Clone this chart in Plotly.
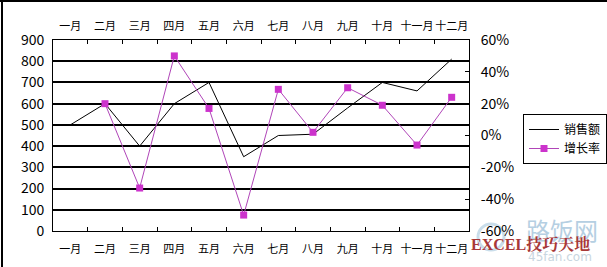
import plotly.graph_objects as go

months = ["一月", "二月", "三月", "四月", "五月", "六月", "七月", "八月", "九月", "十月", "十一月", "十二月"]
sales = [500, 600, 400, 600, 700, 350, 450, 456, 580, 700, 660, 810]
growth = [None, 0.20, -0.33, 0.50, 0.17, -0.50, 0.29, 0.02, 0.30, 0.19, -0.06, 0.24]

left_ticks = list(range(0, 901, 100))
right_vals = [-0.6, -0.4, -0.2, 0, 0.2, 0.4, 0.6]
right_text = ["-60%", "-40%", "-20%", "0%", "20%", "40%", "60%"]

W, H = 607, 267
L, R, T, B = 53, 469, 40, 231


def px(x):
    return (x - L) / (R - L)


def py(y):
    return (B - y) / (B - T)


font = "Noto Sans CJK SC, SimSun, sans-serif"

fig = go.Figure()
fig.add_trace(go.Scatter(
    x=months, y=sales, name="销售额", mode="lines",
    line=dict(color="black", width=1), xaxis="x", yaxis="y"))
fig.add_trace(go.Scatter(
    x=months, y=growth, name="增长率", mode="lines+markers",
    line=dict(color="#B045B8", width=1),
    marker=dict(symbol="square", size=7, color="#CC33CC"),
    xaxis="x", yaxis="y2"))
# invisible trace to drive the top category axis
fig.add_trace(go.Scatter(
    x=months, y=[None] * len(months), showlegend=False, hoverinfo="skip",
    xaxis="x2", yaxis="y"))

fig.update_layout(
    width=W, height=H,
    margin=dict(l=L, r=W - R, t=T, b=H - B, autoexpand=False),
    paper_bgcolor="white", plot_bgcolor="white",
    font=dict(family=font, color="black", size=12),
    showlegend=True,
    legend=dict(
        x=px(523), y=py(114), xanchor="left", yanchor="top",
        bordercolor="black", borderwidth=1, bgcolor="white",
        font=dict(size=12, family=font), tracegroupgap=0,
        itemwidth=30,
    ),
    xaxis=dict(
        type="category", categoryorder="array", categoryarray=months,
        showline=True, linecolor="black", linewidth=1,
        ticks="inside", ticklen=4, tickcolor="black", tickson="boundaries",
        showgrid=False, tickfont=dict(size=11), tickangle=0, automargin=False,
        range=[-0.5, 11.5], ticklabelstandoff=8,
    ),
    xaxis2=dict(
        type="category", categoryorder="array", categoryarray=months,
        overlaying="x", side="top", anchor="y",
        showline=True, linecolor="black", linewidth=1,
        ticks="inside", ticklen=4, tickcolor="black", tickson="boundaries",
        showgrid=False, tickfont=dict(size=11), tickangle=0, automargin=False,
        range=[-0.5, 11.5], ticklabelstandoff=5,
    ),
    yaxis=dict(
        range=[0, 900], tickvals=left_ticks,
        showline=True, linecolor="black", linewidth=1,
        showgrid=True, gridcolor="black", gridwidth=1.5,
        zeroline=False, ticks="", tickfont=dict(size=14),
        automargin=False, ticklabelstandoff=5,
    ),
    yaxis2=dict(
        range=[-0.6, 0.6], tickvals=right_vals, ticktext=right_text,
        overlaying="y", side="right",
        showline=True, linecolor="black", linewidth=1,
        showgrid=False, zeroline=False,
        ticks="inside", ticklen=4, tickcolor="black",
        tickfont=dict(size=14), automargin=False, ticklabelstandoff=8,
    ),
    shapes=[
        dict(type="line", xref="paper", yref="paper",
             x0=px(0), x1=px(W), y0=py(1), y1=py(1),
             line=dict(color="black", width=2)),
        dict(type="line", xref="paper", yref="paper",
             x0=px(2), x1=px(2), y0=py(0), y1=py(H),
             line=dict(color="black", width=2)),
        dict(type="circle", xref="paper", yref="paper",
             x0=px(478), x1=px(504), y0=py(224), y1=py(250),
             line=dict(color="#C9DDEA", width=3), fillcolor="rgba(0,0,0,0)",
             layer="below"),
    ],
    annotations=[
        dict(text="路饭网", xref="paper", yref="paper", x=px(562), y=py(229),
             showarrow=False, font=dict(size=24, color="#B5CFE2", family=font),
             xanchor="center", yanchor="middle"),
        dict(text="45fan.com", xref="paper", yref="paper", x=px(560), y=py(257),
             showarrow=False, font=dict(size=12, color="#C8D6E0", family="DejaVu Sans"),
             xanchor="center", yanchor="middle"),
        dict(text="<b>EXCEL技巧天地</b>", xref="paper", yref="paper", x=px(530), y=py(244),
             showarrow=False, font=dict(size=16, color="#A83838", family="Liberation Serif, Noto Serif CJK SC, serif"),
             xanchor="center", yanchor="middle"),
    ],
)

fig.write_html("out.html")
